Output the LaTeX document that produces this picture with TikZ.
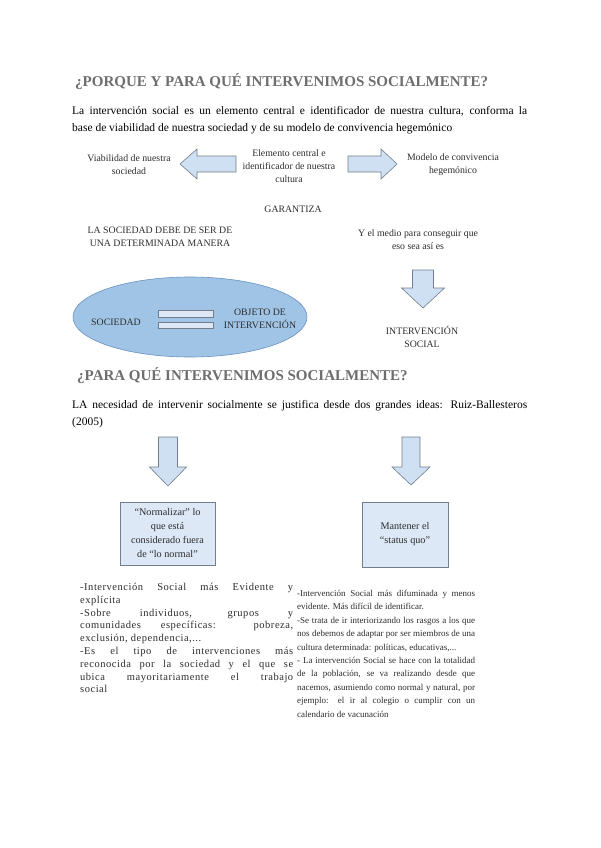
\documentclass[tikz,border=0pt]{standalone}
\usepackage{fontspec}
\setmainfont{Liberation Serif}
\newfontfamily\notefont[LetterSpace=5]{Liberation Serif}
\usetikzlibrary{calc}
\definecolor{titlegray}{RGB}{110,110,110}
\definecolor{textgray}{RGB}{45,45,45}
\definecolor{arrowblue}{RGB}{206,224,242}
\definecolor{arrowedge}{RGB}{115,125,140}
\definecolor{ovalblue}{RGB}{160,196,230}
\definecolor{ovaledge}{RGB}{105,145,195}
\definecolor{boxblue}{RGB}{220,232,246}
\hyphenpenalty=10000
\exhyphenpenalty=10000
\tikzset{
	arrowline/.style={draw=arrowedge, fill=arrowblue, line width=0.6pt},
	small/.style={font=\fontsize{9.8}{13}\selectfont, align=center, text=textgray, inner sep=0pt},
	title/.style={font=\bfseries\fontsize{15}{17}\selectfont, text=titlegray, anchor=west, inner sep=0pt},
	body/.style={font=\fontsize{11.5}{17}\selectfont, text=black, anchor=north west, inner sep=0pt, align=justify},
	note/.style={font=\fontsize{9}{13.4}\selectfont, text=textgray, anchor=north west, inner sep=0pt, align=justify},
	ideabox/.style={draw=arrowedge, fill=boxblue, line width=0.6pt, align=center, text=textgray,
		font=\fontsize{10.2}{14}\selectfont, inner sep=0pt}
}
\newcommand{\arrowdown}[6] % x centre, y top, y head, y tip, shaft half width, head half width
{
	\draw[arrowline] (#1-#5,#2) -- (#1+#5,#2) -- (#1+#5,#3) -- (#1+#6,#3)
		-- (#1,#4) -- (#1-#6,#3) -- (#1-#5,#3) -- cycle;
}
\newcommand{\arrowside}[6] % x tail, x head, x tip, y centre, shaft half height, head half height
{
	\draw[arrowline] (#1,#4-#5) -- (#2,#4-#5) -- (#2,#4-#6) -- (#3,#4)
		-- (#2,#4+#6) -- (#2,#4+#5) -- (#1,#4+#5) -- cycle;
}
\begin{document}
\begin{tikzpicture}[x=1pt, y=-1pt]
	% page: 600 x 848, y grows downwards
	\fill[white] (0,0) rectangle (600,848);
	\useasboundingbox (0,0) rectangle (600,848);

	% first part
	\node[title] (titleone) at (75,82) {¿PORQUE Y PARA QUÉ INTERVENIMOS SOCIALMENTE?};
	\node[body, text width=455pt] (introone) at (72,106)
		{La intervención social es un elemento central e identificador de nuestra cultura, conforma la\linebreak
		base de viabilidad de nuestra sociedad y de su modelo de convivencia hegemónico};

	\node[small] (viabilidad) at (129,165) {Viabilidad de nuestra\\sociedad};
	\arrowside{236}{197}{180}{164}{8}{15};
	\node[small] (elemento) at (289,166) {Elemento central e\\identificador de nuestra\\cultura};
	\arrowside{348}{381}{397}{164}{8}{15};
	\node[small] (modelo) at (453,165) {Modelo de convivencia\\hegemónico};
	\node[small] (garantiza) at (293,209) {GARANTIZA};

	\node[small] (manera) at (160,237) {LA SOCIEDAD DEBE DE SER DE\\UNA DETERMINADA MANERA};
	\node[small] (medio) at (418,240) {Y el medio para conseguir que\\eso sea así es};
	\arrowdown{423}{270}{288}{308}{10.5}{21.5};
	\node[small] (intsocial) at (422,337) {INTERVENCIÓN\\SOCIAL};

	% sociedad as object of intervention
	\draw[draw=ovaledge, fill=ovalblue, line width=0.6pt] (190,317) ellipse [x radius=117, y radius=40];
	\node[small] (sociedad) at (116,322) {SOCIEDAD};
	\draw[draw=arrowedge, fill=boxblue, line width=0.6pt] (158,310) rectangle (213,317);
	\draw[draw=arrowedge, fill=boxblue, line width=0.6pt] (158,322) rectangle (213,328);
	\node[small] (objeto) at (260,319) {OBJETO DE\\INTERVENCIÓN};

	% second part
	\node[title] (titletwo) at (77,376) {¿PARA QUÉ INTERVENIMOS SOCIALMENTE?};
	\node[body, text width=455pt] (introtwo) at (72,400)
		{LA necesidad de intervenir socialmente se justifica desde dos grandes ideas: Ruiz-Ballesteros\linebreak
		(2005)};

	\arrowdown{168}{437}{467}{486}{9.5}{18.5};
	\arrowdown{411}{437}{467}{485}{9}{19};

	\node[ideabox, minimum width=95pt, minimum height=63pt] (normalizar) at (167.5,533.5)
		{“Normalizar” lo\\que está\\considerado fuera\\de “lo normal”};
	\node[ideabox, minimum width=86pt, minimum height=65pt] (statusquo) at (405,534.5)
		{Mantener el\\“status quo”};

	\node[note, font=\notefont\fontsize{10.5}{12.8}\selectfont, text width=213pt] (evidente) at (80,583)
		{-Intervención Social más Evidente y\linebreak
		explícita\\
		-Sobre individuos, grupos y\linebreak
		comunidades específicas: pobreza,\linebreak
		exclusión, dependencia,...\\
		-Es el tipo de intervenciones más\linebreak
		reconocida por la sociedad y el que se\linebreak
		ubica mayoritariamente el trabajo\linebreak
		social};
	\node[note, text width=178pt] (difuminada) at (297,590)
		{-Intervención Social más difuminada y menos\linebreak
		evidente. Más difícil de identificar.\\
		-Se trata de ir interiorizando los rasgos a los que\linebreak
		nos debemos de adaptar por ser miembros de una\linebreak
		cultura determinada: políticas, educativas,...\\
		- La intervención Social se hace con la totalidad\linebreak
		de la población, se va realizando desde que\linebreak
		nacemos, asumiendo como normal y natural, por\linebreak
		ejemplo: el ir al colegio o cumplir con un\linebreak
		calendario de vacunación};
\end{tikzpicture}
\end{document}
